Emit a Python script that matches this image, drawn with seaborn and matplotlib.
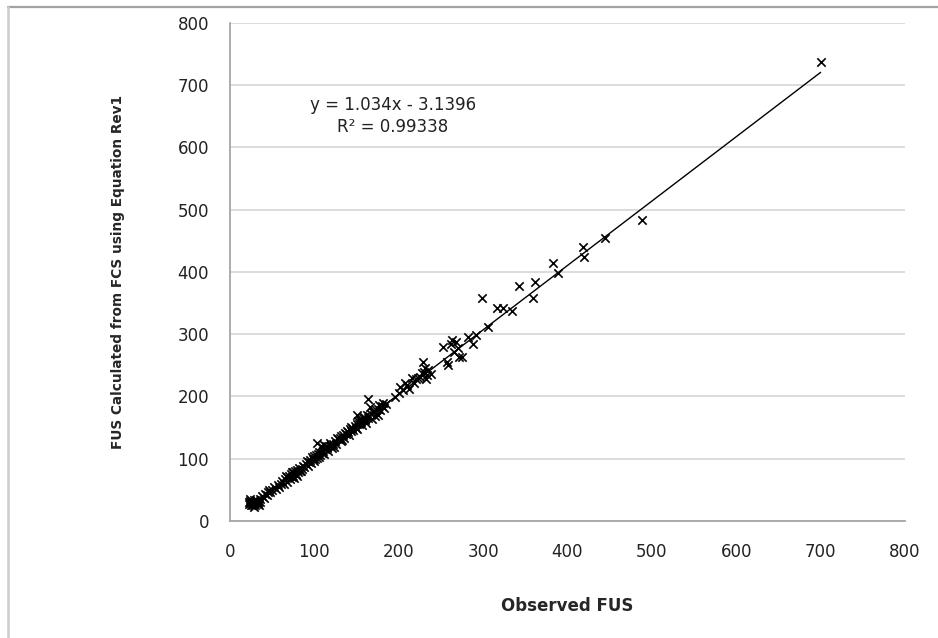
import numpy as np
import pandas as pd
import matplotlib
matplotlib.use("Agg")
import matplotlib.pyplot as plt
from matplotlib.lines import Line2D
import seaborn as sns

# observed vs calculated FUS
observed_fus = [
    22, 23, 24, 25, 25, 26, 27, 27, 28, 29, 30, 30, 31, 32, 33, 34, 35, 36, 38, 40,
    42, 44, 45, 48, 50, 52, 55, 57, 60, 62, 64, 65, 67, 68, 70, 71, 72, 73, 74, 75,
    76, 77, 78, 79, 80, 81, 82, 83, 85, 86, 88, 90, 92, 94, 95, 96, 98, 99, 100, 101,
    102, 103, 103, 104, 105, 106, 107, 108, 109, 110, 111, 112, 113, 115, 116, 118, 119, 120, 122, 123,
    125, 126, 128, 130, 131, 132, 134, 135, 136, 138, 139, 140, 141, 142, 143, 145, 146, 148, 149, 150,
    150, 151, 152, 153, 155, 156, 157, 158, 160, 161, 162, 163, 164, 165, 166, 167, 168, 170, 172, 173,
    175, 176, 178, 180, 181, 183, 185, 195, 200, 201, 205, 207, 210, 212, 216, 218, 220, 223, 225, 228,
    229, 230, 231, 232, 233, 235, 238, 252, 257, 258, 262, 263, 265, 268, 270, 272, 275, 282, 288, 292,
    299, 306, 316, 324, 334, 342, 359, 361, 383, 389, 418, 419, 444, 488, 700,
    24, 28, 33, 46, 58, 66, 75, 84, 91, 97, 114, 121, 127, 133, 144, 154, 159, 171, 177,
]
calculated_fus = [
    30, 27, 32, 26, 29, 31, 25, 28, 33, 27, 30, 25, 34, 28, 31, 26, 36, 30, 40, 37,
    44, 41, 46, 47, 50, 55, 52, 58, 60, 64, 59, 68, 63, 70, 72, 67, 75, 70, 78, 73,
    69, 80, 76, 72, 82, 78, 85, 80, 84, 88, 86, 92, 89, 95, 98, 93, 100, 96, 104, 99,
    106, 101, 125, 108, 103, 111, 106, 120, 110, 113, 108, 122, 115, 118, 113, 120, 125, 122, 124, 119,
    128, 124, 131, 133, 128, 136, 138, 134, 141, 140, 145, 143, 138, 147, 144, 149, 146, 152, 150, 155,
    170, 148, 160, 156, 159, 154, 162, 166, 163, 158, 170, 165, 196, 168, 183, 172, 164, 175, 168, 178,
    180, 171, 178, 185, 190, 182, 188, 199, 205, 215, 210, 222, 218, 212, 230, 222, 228, 230, 232, 238,
    255, 240, 245, 228, 235, 242, 236, 280, 255, 250, 285, 291, 272, 288, 278, 264, 263, 296, 284, 299,
    358, 312, 342, 342, 337, 377, 358, 384, 414, 398, 440, 424, 455, 484, 738,
    35, 23, 29, 50, 55, 72, 79, 81, 96, 102, 121, 118, 134, 130, 151, 163, 167, 176, 186,
]

# Excel linear trendline shown on the chart
slope = 1.034
intercept = -3.1396
r_squared = 0.99338

ticks = [0, 100, 200, 300, 400, 500, 600, 700, 800]

df = pd.DataFrame({"observed": observed_fus, "calculated": calculated_fus})

x_fit = np.array([min(observed_fus), max(observed_fus)])
trend = pd.DataFrame({"observed": x_fit, "calculated": slope * x_fit + intercept})

sns.set_style("white")
plt.rcParams["font.family"] = ["DejaVu Sans"]

fig = plt.figure(figsize=(9.38, 6.38), dpi=100)
ax = fig.add_axes([0.2452, 0.1834, 0.7196, 0.7806])

# outer chart frame, only top and left edges are in the screenshot
top_y = 1 - 7 / 638
left_x = 8 / 938
fig.lines.append(Line2D([left_x, 1.0], [top_y, top_y], transform=fig.transFigure,
                        color="#a3a3a3", linewidth=1.6))
fig.lines.append(Line2D([left_x, left_x], [0, top_y], transform=fig.transFigure,
                        color="#cccccc", linewidth=1.8))

sns.lineplot(data=trend, x="observed", y="calculated", ax=ax, color="black", linewidth=1.0)
sns.scatterplot(data=df, x="observed", y="calculated", ax=ax, marker="x", color="black",
                s=36, linewidth=1.2, zorder=3)

ax.set_xlim(0, 800)
ax.set_ylim(0, 800)
ax.set_xticks(ticks)
ax.set_yticks(ticks)

ax.grid(axis="y", color="#d9d9d9", linewidth=1.3)
ax.grid(axis="x", visible=False)
ax.set_axisbelow(True)

for side in ["top", "right"]:
    ax.spines[side].set_visible(False)
for side in ["left", "bottom"]:
    ax.spines[side].set_color("#a6a6a6")
    ax.spines[side].set_linewidth(1.3)

ax.tick_params(axis="both", direction="out", length=5, width=1.3, color="#a6a6a6",
               labelsize=12, labelcolor="#222222")
ax.tick_params(axis="x", pad=11)
ax.tick_params(axis="y", pad=10)

ax.set_xlabel("Observed FUS", fontsize=12, fontweight="bold", labelpad=26)
ax.set_ylabel("FUS Calculated from FCS using Equation Rev1", fontsize=9.8,
              fontweight="bold", labelpad=38)

ax.text(0.2415, 0.813, f"y = {slope}x - {abs(intercept)}\nR² = {r_squared}", transform=ax.transAxes,
        ha="center", va="center", fontsize=12, color="#222222", linespacing=1.25)

fig.savefig("out.png", dpi=100)
